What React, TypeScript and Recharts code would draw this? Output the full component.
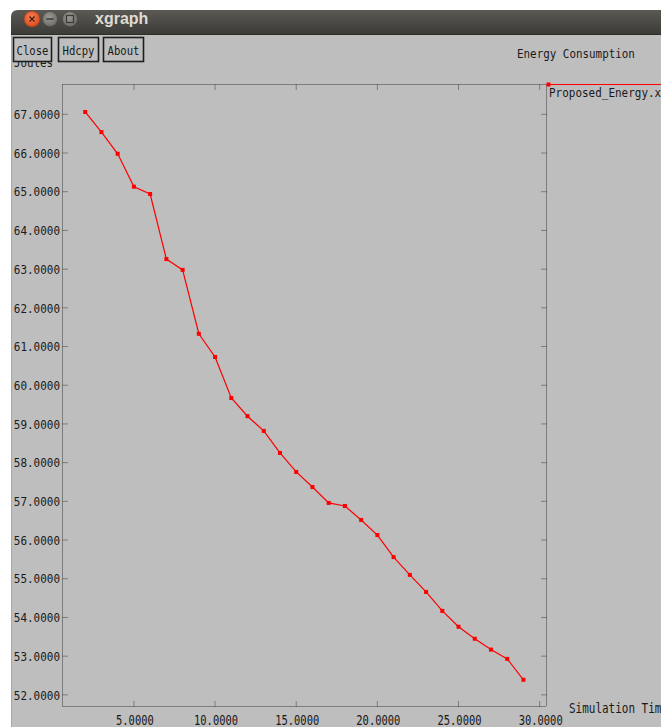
import React from 'react';
import { LineChart, Line, XAxis, YAxis, Legend } from 'recharts';

// ---- data ----
const simTime = [2, 3, 4, 5, 6, 7, 8, 9, 10, 11, 12, 13, 14, 15, 16, 17, 18, 19, 20, 21, 22, 23, 24, 25, 26, 27, 28, 29];
const energy = [
  67.06, 66.54, 65.98, 65.13, 64.94, 63.26, 62.98, 61.33, 60.73, 59.67,
  59.2, 58.82, 58.25, 57.76, 57.37, 56.96, 56.88, 56.52, 56.13, 55.56,
  55.1, 54.66, 54.17, 53.76, 53.45, 53.17, 52.93, 52.39,
];
const xTicks = [5, 10, 15, 20, 25, 30];
const yTicks = [52, 53, 54, 55, 56, 57, 58, 59, 60, 61, 62, 63, 64, 65, 66, 67];
const seriesName = 'Proposed_Energy.xg';
const chartTitle = 'Energy Consumption';
const yLabel = 'Joules';
const xLabel = 'Simulation Time';
const windowTitle = 'xgraph';
const buttonLabels = ['Close', 'Hdcpy', 'About'];

const data = simTime.map((t, i) => ({ t, e: energy[i] }));

// ---- layout ----
const W = 661;
const H = 727;
const L = 62.5;
const R = 546.5;
const T = 84.5;
const B = 706.5;
const MONO = '"DejaVu Sans Mono", "Liberation Mono", monospace';
const INK = '#1a1a1a';
const FRAME = '#3c3c3c';
const RED = '#ff0000';
const CH = 6.6;

const LeftTick = (p: any) => {
  const s = Number(p.payload.value).toFixed(4);
  const y = p.y;
  return (
    <g>
      <line x1={L} x2={L + 5} y1={y} y2={y} stroke={FRAME} strokeDasharray="1 1" />
      <text x={60} y={y + 4.7} textAnchor="end" fontFamily={MONO} fontSize={13}
        textLength={s.length * CH} lengthAdjust="spacingAndGlyphs" fill={INK}>{s}</text>
    </g>
  );
};
const RightTick = (p: any) => (
  <line x1={R - 5} x2={R} y1={p.y} y2={p.y} stroke={FRAME} strokeDasharray="1 1" />
);
const BottomTick = (p: any) => {
  const s = Number(p.payload.value).toFixed(4);
  const x = p.x;
  return (
    <g>
      <line x1={x} x2={x} y1={B - 5} y2={B} stroke={FRAME} strokeDasharray="1 1" />
      <text x={x + 1} y={725} textAnchor="middle" fontFamily={MONO} fontSize={14}
        textLength={s.length * 6.3} lengthAdjust="spacingAndGlyphs" fill={INK}>{s}</text>
    </g>
  );
};
const TopTick = (p: any) => (
  <line x1={p.x} x2={p.x} y1={T} y2={T + 5} stroke={FRAME} strokeDasharray="1 1" />
);

const SquareDot = (p: any) => (
  <rect key={`d${p.index}`} x={p.cx - 2} y={p.cy - 2} width={4} height={4} fill={RED} />
);

const LegendBox = () => (
  <svg width={130} height={30} style={{ display: 'block', overflow: 'visible' }}>
    <line x1={8} x2={130} y1={8.5} y2={8.5} stroke={RED} strokeWidth={1.2} />
    <rect x={6.5} y={6.5} width={4} height={4} fill={RED} />
    <text x={9} y={21} fontFamily={MONO} fontSize={13} textLength={seriesName.length * CH}
      lengthAdjust="spacingAndGlyphs" fill={INK}>{seriesName}</text>
  </svg>
);

const btnX = [13, 58, 103];
const btnW = [39, 41, 41];
const frameLine = { stroke: FRAME, strokeDasharray: '1 1' };

export default function App() {
  return (
    <div style={{ position: 'fixed', left: 0, top: 0, width: W, height: H, overflow: 'hidden', background: '#ffffff' }}>
      <div style={{ position: 'absolute', left: 11, top: 35, width: W - 11, height: H - 35, background: '#bebebe', borderLeft: '1px solid #a8a8a8', boxSizing: 'border-box' }} />
      <div style={{ position: 'absolute', left: 0, top: 0 }}>
        <LineChart width={W} height={H} data={data} margin={{ top: T - 1, right: W - R - 1, bottom: 0, left: 0 }}>
          <XAxis xAxisId="b" dataKey="t" type="number" orientation="bottom" height={H - B}
            domain={[0.6, 30.42]} allowDataOverflow ticks={xTicks} interval={0}
            axisLine={frameLine} tickLine={false} tick={BottomTick} />
          <XAxis xAxisId="t" dataKey="t" type="number" orientation="top" height={1}
            domain={[0.6, 30.42]} allowDataOverflow ticks={xTicks} interval={0}
            axisLine={frameLine} tickLine={false} tick={TopTick} />
          <YAxis yAxisId="l" type="number" orientation="left" width={L}
            domain={[51.7, 67.77]} allowDataOverflow ticks={yTicks} interval={0}
            axisLine={frameLine} tickLine={false} tick={LeftTick} />
          <YAxis yAxisId="r" type="number" orientation="right" width={1}
            domain={[51.7, 67.77]} allowDataOverflow ticks={yTicks} interval={0}
            axisLine={frameLine} tickLine={false} tick={RightTick} />
          <Legend layout="vertical" align="center" verticalAlign="middle" content={LegendBox}
            wrapperStyle={{ position: 'absolute', left: 540, top: 76, width: 130, height: 30, margin: 0 }} />
          <Line xAxisId="b" yAxisId="l" type="linear" dataKey="e" name={seriesName}
            stroke={RED} strokeWidth={1.2} dot={SquareDot} activeDot={false} isAnimationActive={false} />
        </LineChart>
      </div>
      <svg width={W} height={H} style={{ position: 'absolute', left: 0, top: 0, pointerEvents: 'none' }}>
        <defs>
          <linearGradient id="tb" x1="0" y1="0" x2="0" y2="1">
            <stop offset="0" stopColor="#5a5954" />
            <stop offset="1" stopColor="#3b3a36" />
          </linearGradient>
          <radialGradient id="cl" cx="0.45" cy="0.4" r="0.6">
            <stop offset="0" stopColor="#f5865a" />
            <stop offset="1" stopColor="#d9471c" />
          </radialGradient>
          <radialGradient id="gr" cx="0.45" cy="0.4" r="0.6">
            <stop offset="0" stopColor="#9a9993" />
            <stop offset="1" stopColor="#6e6d68" />
          </radialGradient>
        </defs>
        {/* title bar */}
        <path d={`M11 35 V17 Q11 10 18 10 H${W} V35 Z`} fill="url(#tb)" />
        <line x1={11} x2={W} y1={34.5} y2={34.5} stroke="#2e2d2a" />
        <circle cx={32} cy={19} r={8} fill="url(#cl)" stroke="#8c3a1f" strokeWidth={0.6} />
        <path d="M29.5 16.5 L34.5 21.5 M34.5 16.5 L29.5 21.5" stroke="#4a1a0a" strokeWidth={1.3} />
        <circle cx={50} cy={19} r={7.5} fill="url(#gr)" stroke="#4a4945" strokeWidth={0.6} />
        <line x1={46.5} x2={53.5} y1={19} y2={19} stroke="#3a3935" strokeWidth={1.5} />
        <circle cx={70} cy={19} r={7.5} fill="url(#gr)" stroke="#4a4945" strokeWidth={0.6} />
        <rect x={66.5} y={15.5} width={7} height={7} fill="none" stroke="#3a3935" strokeWidth={1.2} />
        <text x={95} y={24} fontFamily='"Liberation Sans", Arial, sans-serif' fontWeight="bold" fontSize={16}
          fill="#dfdbd2">{windowTitle}</text>
        {/* y label, partly hidden by the buttons */}
        <text x={14} y={67} fontFamily={MONO} fontSize={13} textLength={yLabel.length * 6.5}
          lengthAdjust="spacingAndGlyphs" fill={INK}>{yLabel}</text>
        {/* buttons */}
        {buttonLabels.map((b, i) => (
          <g key={b}>
            <rect x={btnX[i] + 0.5} y={37.5} width={btnW[i] - 1} height={24} fill="#bebebe" stroke="#1e1e1e" strokeWidth={1.6} />
            <text x={btnX[i] + btnW[i] / 2} y={55} textAnchor="middle" fontFamily={MONO} fontSize={13}
              textLength={b.length * 6.4} lengthAdjust="spacingAndGlyphs" fill={INK}>{b}</text>
          </g>
        ))}
        <text x={517} y={58} fontFamily={MONO} fontSize={13} textLength={chartTitle.length * 6.55}
          lengthAdjust="spacingAndGlyphs" fill={INK}>{chartTitle}</text>
        <text x={569} y={713} fontFamily={MONO} fontSize={14} textLength={xLabel.length * CH}
          lengthAdjust="spacingAndGlyphs" fill={INK}>{xLabel}</text>
      </svg>
    </div>
  );
}
